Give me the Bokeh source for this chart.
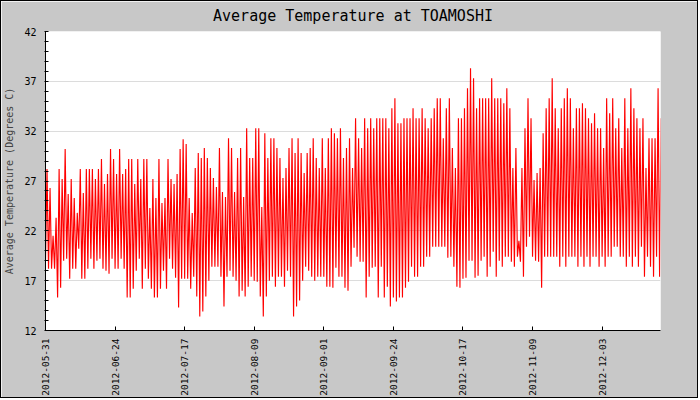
import math
from bokeh.plotting import figure
from bokeh.models import Range1d, FixedTicker
from bokeh.embed import file_html
from bokeh.resources import INLINE

title_text = "Average Temperature at TOAMOSHI"
y_label = "Average Temperature (Degrees C)"
tick_dates = ["2012-05-31", "2012-06-24", "2012-07-17", "2012-08-09", "2012-09-01",
              "2012-09-24", "2012-10-17", "2012-11-09", "2012-12-03"]
tick_step_days = 23.0
y_ticks = [12, 17, 22, 27, 32, 37, 42]

# daily maxima (deg C), one per day starting 2012-05-31
day_high = [
    28.2, 26.3, 21.5, 23.3, 28.2, 27.2, 30.2, 25.7, 27.2, 25.3,
    23.8, 28.2, 25.8, 28.2, 28.2, 28.2, 27.2, 28.2, 29.2, 26.7,
    27.7, 30.2, 29.2, 27.7, 30.2, 27.7, 28.2, 29.2, 29.2, 26.7,
    29.2, 27.2, 29.2, 29.2, 24.3, 27.2, 25.3, 29.2, 24.8, 25.3,
    29.2, 27.2, 26.7, 27.7, 30.2, 31.2, 30.7, 25.3, 23.8, 28.3,
    29.8, 29.3, 30.3, 29.3, 28.3, 27.3, 26.4, 30.3, 25.9, 25.4,
    31.3, 30.3, 25.9, 29.3, 30.3, 25.4, 32.3, 29.3, 29.3, 32.3,
    32.3, 24.4, 31.8, 29.3, 31.3, 31.3, 30.3, 29.3, 27.3, 28.3,
    30.3, 31.3, 29.8, 31.3, 29.8, 27.8, 29.8, 30.3, 31.3, 29.3,
    28.3, 31.3, 28.3, 31.3, 32.3, 31.8, 31.3, 32.3, 29.3, 30.3,
    31.3, 28.3, 33.3, 31.3, 30.3, 33.3, 32.3, 33.3, 32.3, 33.3,
    33.3, 33.3, 33.3, 32.3, 34.3, 35.3, 32.8, 32.8, 33.3, 33.3,
    33.3, 34.3, 33.3, 33.3, 34.3, 33.3, 32.3, 33.3, 34.3, 35.3,
    35.3, 31.3, 34.3, 35.3, 30.3, 28.3, 33.3, 33.3, 34.3, 36.3,
    38.3, 37.3, 34.3, 35.3, 35.3, 35.3, 35.3, 37.3, 35.3, 35.3,
    35.3, 34.8, 36.3, 34.3, 28.3, 30.3, 21.0, 28.3, 32.3, 35.3,
    33.3, 27.1, 27.8, 28.3, 31.8, 34.3, 35.3, 37.3, 34.3, 32.3,
    34.3, 35.3, 36.3, 35.3, 32.3, 34.3, 34.3, 34.8, 34.3, 33.3,
    32.8, 33.8, 32.3, 32.3, 30.3, 35.3, 33.8, 35.3, 32.3, 33.3,
    30.3, 35.3, 32.3, 36.3, 34.3, 33.3, 32.3, 33.3, 28.3, 31.3,
    31.3, 31.3, 36.3, 33.3,
]

# daily minima (deg C)
day_low = [
    19.0, 18.2, 18.2, 18.2, 15.3, 16.3, 19.0, 19.2, 17.2, 18.2,
    18.2, 20.2, 17.2, 17.2, 18.2, 19.2, 18.2, 19.0, 19.2, 18.2,
    18.0, 17.7, 19.2, 18.2, 18.2, 19.2, 18.2, 15.3, 15.3, 16.2,
    18.0, 19.2, 16.2, 18.2, 17.2, 16.2, 15.3, 15.3, 16.2, 18.0,
    16.2, 19.2, 18.2, 17.3, 14.3, 17.2, 17.2, 17.2, 16.2, 17.4,
    15.4, 13.4, 13.9, 15.4, 17.0, 18.4, 18.4, 18.4, 17.4, 14.4,
    17.4, 18.0, 17.4, 17.0, 15.4, 16.0, 15.4, 16.4, 17.4, 17.0,
    16.9, 15.4, 13.4, 15.4, 17.0, 17.4, 16.4, 17.4, 17.4, 16.4,
    18.0, 17.4, 13.4, 14.4, 15.0, 17.0, 18.4, 18.0, 17.4, 17.0,
    17.4, 17.4, 17.4, 16.4, 16.4, 16.3, 18.3, 17.4, 17.4, 16.3,
    16.0, 18.4, 20.3, 19.4, 18.9, 18.9, 15.3, 17.4, 18.3, 18.4,
    15.3, 18.4, 15.3, 16.4, 14.4, 15.3, 14.9, 15.3, 15.3, 16.3,
    16.9, 18.4, 17.4, 17.4, 18.4, 18.4, 19.4, 19.4, 20.4, 20.4,
    20.4, 20.4, 20.4, 19.3, 19.4, 18.4, 16.4, 16.3, 17.2, 17.3,
    19.0, 19.0, 17.3, 17.5, 19.0, 19.4, 17.4, 18.4, 19.9, 17.4,
    19.0, 18.4, 19.4, 19.4, 18.9, 18.4, 19.4, 18.9, 17.4, 20.4,
    21.4, 19.4, 19.0, 18.9, 16.3, 19.4, 19.4, 19.4, 19.4, 19.4,
    18.4, 19.4, 18.4, 19.4, 19.4, 19.4, 18.4, 19.4, 18.4, 19.4,
    18.4, 19.4, 19.4, 18.4, 19.4, 18.4, 19.4, 19.4, 20.4, 20.4,
    19.4, 19.4, 18.4, 19.4, 18.4, 19.4, 18.4, 20.4, 17.4, 19.4,
    18.4, 17.4, 19.4, 17.4,
]

xs, ys = [], []
for d, (lo, hi) in enumerate(zip(day_low, day_high)):
    xs += [d, d + 0.5]
    ys += [lo, hi]

p = figure(width=698, height=398, output_backend="svg", toolbar_location=None,
           x_range=Range1d(0, 203.3), y_range=Range1d(y_ticks[0], y_ticks[-1]),
           min_border_left=41, min_border_right=39, min_border_top=30, min_border_bottom=69,
           background_fill_color="white", border_fill_color="#c8c8c8")
p.styles = {"border": "1px solid black"}
p.outline_line_color = None

p.title.text = title_text
p.title.align = "center"
p.title.vertical_align = "top"
p.title.text_font = "DejaVu Sans Mono"
p.title.text_font_size = "15px"
p.title.text_font_style = "normal"
p.title.text_color = "black"

p.line(xs, ys, line_color="#ff0000", line_width=1.15)

font = "DejaVu Sans Mono"
xt = [i * tick_step_days for i in range(len(tick_dates))]
p.xaxis.ticker = FixedTicker(ticks=xt)
p.xaxis.major_label_overrides = {t: lab for t, lab in zip(xt, tick_dates)}
p.xaxis.major_label_orientation = math.pi / 2
p.xaxis.major_label_text_font = font
p.xaxis.major_label_text_font_size = "9.5px"
p.xaxis.major_label_standoff = 8
p.xaxis.major_tick_in = 4
p.xaxis.major_tick_out = 0
p.xaxis.minor_tick_line_color = None

minor = [v for v in range(y_ticks[0], y_ticks[-1] + 1) if v not in y_ticks]
p.yaxis.ticker = FixedTicker(ticks=y_ticks, minor_ticks=minor)
p.yaxis.major_label_text_font = font
p.yaxis.major_label_text_font_size = "10px"
p.yaxis.major_label_standoff = 8
p.yaxis.major_tick_in = 3
p.yaxis.major_tick_out = 1
p.yaxis.minor_tick_in = 3
p.yaxis.minor_tick_out = 1
p.yaxis.axis_label = y_label
p.yaxis.axis_label_text_font = font
p.yaxis.axis_label_text_font_size = "10px"
p.yaxis.axis_label_text_font_style = "normal"
p.yaxis.axis_label_standoff = 6

for ax in (p.xaxis, p.yaxis):
    ax.axis_line_color = "black"
    ax.major_tick_line_color = "black"
    ax.major_label_text_color = "black"
p.yaxis.minor_tick_line_color = "black"

p.xgrid.visible = False
p.ygrid.grid_line_color = "#dcdcdc"

open("out.html", "w").write(file_html(p, INLINE))
